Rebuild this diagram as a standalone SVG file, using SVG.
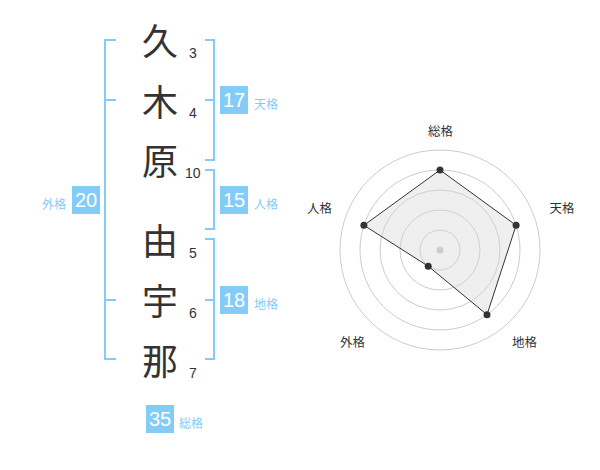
<svg xmlns="http://www.w3.org/2000/svg" width="600" height="470" viewBox="0 0 600 470">
<style>
.ch{font-family:"Noto Sans CJK JP","Noto Sans CJK SC",sans-serif;font-size:36px;fill:#333;text-anchor:middle}
.num{font-family:"Liberation Sans",Arial,sans-serif;font-size:14px;fill:#333}
.br{fill:none;stroke:#82ccf7;stroke-width:2}
.box{fill:#82ccf7}
.bv{font-family:"Liberation Sans",Arial,sans-serif;font-size:20px;fill:#fff;text-anchor:middle}
.bl{font-family:"Noto Sans CJK JP",sans-serif;font-size:12px;fill:#82ccf7}
.ring{fill:none;stroke:#ccc;stroke-width:1}
.rl{font-family:"Noto Sans CJK JP",sans-serif;font-size:12.5px;fill:#333;text-anchor:middle}
.pt{fill:#333}
</style>
<rect width="600" height="470" fill="#fff"/>
<g id="connectors">
<path class="br" d="M116,40H105V359H116M105,100H116M105,300H116"/>
<path class="br" d="M205,40H214V160H205M205,100H214"/>
<path class="br" d="M205,170H214V229H205"/>
<path class="br" d="M205,239H214V359H205M205,300H214"/>
</g>
<g id="chars">
<g id="c1"><text class="ch" x="160" y="55">久</text><text class="num" x="189" y="58">3</text></g>
<g id="c2"><text class="ch" x="160" y="116">木</text><text class="num" x="189" y="118">4</text></g>
<g id="c3"><text class="ch" x="160" y="175">原</text><text class="num" x="185" y="178">10</text></g>
<g id="c4"><text class="ch" x="160" y="255">由</text><text class="num" x="189" y="258">5</text></g>
<g id="c5"><text class="ch" x="160" y="315">宇</text><text class="num" x="189" y="318">6</text></g>
<g id="c6"><text class="ch" x="160" y="375">那</text><text class="num" x="189" y="378">7</text></g>
</g>
<g id="tenkaku"><rect class="box" x="220" y="86" width="28" height="28"/><text class="bv" x="234" y="107">17</text><text class="bl" x="254" y="109">天格</text></g>
<g id="jinkaku"><rect class="box" x="220" y="186" width="28" height="28"/><text class="bv" x="234" y="207">15</text><text class="bl" x="254" y="209">人格</text></g>
<g id="chikaku"><rect class="box" x="220" y="286" width="28" height="28"/><text class="bv" x="234" y="307">18</text><text class="bl" x="254" y="309">地格</text></g>
<g id="gaikaku"><rect class="box" x="72" y="186" width="28" height="28"/><text class="bv" x="86" y="207">20</text><text class="bl" x="66" y="209" text-anchor="end">外格</text></g>
<g id="soukaku"><rect class="box" x="146" y="405" width="28" height="28"/><text class="bv" x="160" y="426">35</text><text class="bl" x="179" y="428">総格</text></g>
<g id="radar">
<circle class="ring" cx="440" cy="250" r="20"/>
<circle class="ring" cx="440" cy="250" r="40"/>
<circle class="ring" cx="440" cy="250" r="60"/>
<circle class="ring" cx="440" cy="250" r="80"/>
<circle class="ring" cx="440" cy="250" r="100"/>
<polygon points="440,170 516.1,225.3 487,314.7 428.2,266.2 363.9,225.3" fill="#d8d8d8" fill-opacity="0.4" stroke="#333" stroke-width="1"/>
<circle cx="440" cy="250" r="3.5" fill="#ccc"/>
<circle class="pt" cx="440" cy="170" r="3.5"/>
<circle class="pt" cx="516.1" cy="225.3" r="3.5"/>
<circle class="pt" cx="487" cy="314.7" r="3.5"/>
<circle class="pt" cx="428.2" cy="266.2" r="3.5"/>
<circle class="pt" cx="363.9" cy="225.3" r="3.5"/>
<text class="rl" x="440.5" y="136">総格</text>
<text class="rl" x="562" y="213">天格</text>
<text class="rl" x="524.5" y="347">地格</text>
<text class="rl" x="352.5" y="347">外格</text>
<text class="rl" x="319.5" y="213">人格</text>
</g>
</svg>
